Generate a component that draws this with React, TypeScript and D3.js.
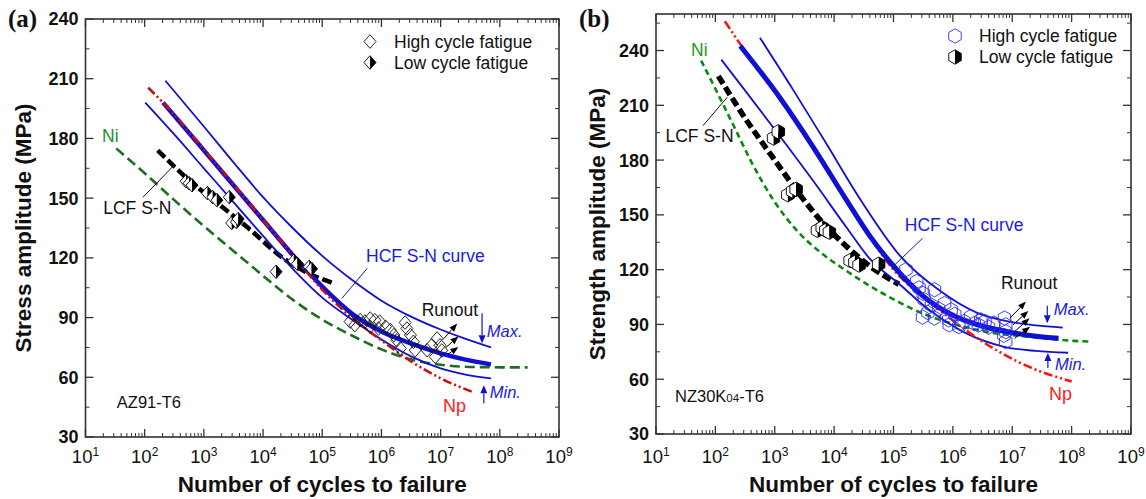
import React from "react";
import * as d3 from "d3";

type Pt = [number, number];
type Arr4 = [number, number, number, number];

const FONT = "'Liberation Sans', Arial, Helvetica, sans-serif";

// ---------- shared axis values ----------
const xExponents = [1, 2, 3, 4, 5, 6, 7, 8, 9];
const yTickValuesA = [30, 60, 90, 120, 150, 180, 210, 240];
const yTickValuesB = [30, 60, 90, 120, 150, 180, 210, 240];

// ---------- panel (a) AZ91-T6 : points are [log10(cycles), MPa] ----------
const aMaxCurve: Pt[] = [[2.35, 209], [3.0, 186], [3.5, 168], [4.0, 150.5], [4.5, 135], [5.0, 121], [5.5, 109], [6.0, 98.5], [6.5, 90.5], [7.0, 84], [7.4, 79.5], [7.85, 75]];
const aMeanCurve: Pt[] = [[2.31, 198], [2.7, 184.5], [3.0, 174], [3.5, 156.5], [4.0, 139], [4.5, 121.5], [5.0, 105.5], [5.5, 92], [6.0, 83], [6.5, 77], [7.0, 72], [7.4, 69], [7.85, 66.5]];
const aMinCurve: Pt[] = [[2.01, 198], [2.5, 182], [3.0, 165], [3.5, 148], [4.0, 131], [4.55, 113], [5.0, 100], [5.5, 89], [6.0, 79], [6.5, 70.5], [7.0, 64.5], [7.4, 61.5], [7.85, 59.5]];
const aNpCurve: Pt[] = [[2.06, 205.5], [2.5, 192], [3.0, 174.5], [3.5, 157], [4.0, 139], [4.5, 121.5], [5.0, 104], [5.5, 90], [6.0, 78.5], [6.5, 68], [7.0, 59.5], [7.55, 52.5]];
const aNiCurve: Pt[] = [[1.52, 175], [2.0, 162.5], [2.5, 149], [3.0, 136], [3.5, 123.5], [4.0, 111], [4.5, 99], [5.0, 89], [5.5, 81], [6.0, 74], [6.5, 69], [7.0, 66.3], [7.5, 65.2], [8.0, 65], [8.47, 65]];
const aLcfCurve: Pt[] = [[2.22, 174], [2.75, 159], [3.25, 147], [3.75, 135], [4.29, 121], [4.75, 112.5], [5.22, 107]];
const aHcfPoints: Pt[] = [[5.47, 88], [5.55, 86.2], [5.64, 88.7], [5.72, 88], [5.81, 89.5], [5.89, 88.7], [5.97, 88], [5.81, 85.4], [5.95, 84.5], [6.07, 85.4], [6.15, 83.7], [6.21, 81.2], [6.26, 78.6], [6.32, 74.5], [6.4, 87.5], [6.43, 84.5], [6.49, 81.2], [6.54, 77.8], [6.57, 73.6], [6.77, 73.6], [6.85, 76.1], [6.94, 79.5], [6.99, 76.1], [6.91, 70.3], [7.02, 73.5]];
const aLcfPoints: Pt[] = [[2.7, 158.5], [2.75, 157.5], [2.8, 156.5], [3.06, 152.5], [3.15, 150.5], [3.22, 149], [3.43, 150.5], [3.47, 137.5], [3.55, 138], [3.58, 139.5], [4.22, 113], [4.52, 118.5], [4.58, 117], [4.78, 115.5], [4.82, 114.5]];
const aRunouts: Arr4[] = [[7.04, 79, 7.28, 87], [7.09, 75, 7.3, 80.5], [7.12, 71.5, 7.3, 75.2]];

// ---------- panel (b) NZ30K04-T6 ----------
const bMaxCurve: Pt[] = [[2.75, 247], [3.3, 219], [3.85, 190], [4.45, 158], [5.1, 128], [5.8, 108], [6.4, 96.5], [6.95, 91.5], [7.4, 89.5], [7.85, 88.3]];
const bMeanCurve: Pt[] = [[2.42, 242.5], [3.09, 214], [3.65, 187], [4.2, 158.5], [4.6, 138.5], [5.0, 122], [5.5, 105.5], [6.0, 95], [6.5, 89], [7.0, 85.5], [7.4, 83.5], [7.78, 82.4]];
const bMinCurve: Pt[] = [[2.1, 235], [2.55, 216], [3.1, 192.5], [3.65, 168.5], [4.2, 143.5], [4.6, 126], [5.1, 112], [5.6, 98], [6.2, 85.5], [6.9, 77.5], [7.4, 75.5], [7.94, 74.5]];
const bNpCurve: Pt[] = [[2.16, 256], [2.42, 243.5], [3.09, 214.5], [3.65, 187.5], [4.2, 158.5], [4.6, 138], [5.0, 120], [5.38, 108], [5.77, 98], [6.21, 87], [6.77, 75.2], [7.33, 66.1], [8.0, 58.8]];
const bNiCurve: Pt[] = [[1.76, 234.5], [2.07, 214.5], [2.32, 198], [2.59, 180], [2.98, 158], [3.37, 141.5], [3.75, 130], [4.2, 119.5], [4.53, 112.5], [4.93, 105], [5.49, 96], [6.04, 90], [6.7, 85.2], [7.31, 83.2], [8.03, 81], [8.33, 80.6]];
const bLcfCurve: Pt[] = [[2.05, 226], [2.5, 203], [3.0, 180], [3.4, 162], [3.8, 146], [4.2, 133], [4.6, 122], [5.09, 112]];
const bHcfPoints: Pt[] = [[5.21, 120], [5.39, 113.5], [5.43, 110], [5.5, 107], [5.52, 103.5], [5.58, 96.5], [5.64, 100.5], [5.69, 109], [5.69, 93.5], [5.76, 98.5], [5.86, 101.5], [5.93, 92.5], [5.97, 98], [6.03, 95.5], [6.1, 88.8], [6.19, 91.6], [6.3, 94.3], [6.36, 90.5], [6.43, 89.7], [6.47, 92.5], [6.54, 91.6], [6.6, 88.5], [6.69, 90.7], [6.87, 93.5], [6.89, 89.8], [6.89, 86], [6.89, 80.6], [6.86, 84], [5.49, 94], [5.94, 89.8]];
const bLcfPoints: Pt[] = [[2.98, 192], [3.06, 195.5], [3.22, 161], [3.3, 163], [3.36, 164], [3.72, 141.5], [3.8, 143], [3.86, 141.5], [3.92, 140.5], [4.27, 125], [4.35, 124], [4.42, 122.5], [4.75, 123]];
const bRunouts: Arr4[] = [[6.96, 93.4, 7.23, 102.5], [7.01, 89.7, 7.27, 97.4], [7.04, 86.1, 7.29, 93.4], [7.04, 82.4, 7.3, 88.8]];

interface Spec {
  key: string;
  x0: number; x1: number; yTop: number; yBot: number; yMax: number;
  yTicks: number[];
  yTitle: string; yTitleX: number; panelLabel: string; panelLabelX: number;
  max: Pt[]; mean: Pt[]; min: Pt[]; np: Pt[]; ni: Pt[]; lcf: Pt[];
  hcfPts: Pt[]; lcfPts: Pt[]; runouts: Arr4[];
  marker: "diamond" | "hex";
  npColor: string; niColor: string; niTextColor: string; npOnTop: boolean;
  niDash: string; lcfDash: string; lcfWidth: number; meanWidth: number;
  ann: any;
}

function Arrow({ x1, y1, x2, y2, color, hl = 7, hw = 3, sw = 1 }: any) {
  const a = Math.atan2(y2 - y1, x2 - x1);
  const bx = x2 - hl * Math.cos(a), by = y2 - hl * Math.sin(a);
  const px = -Math.sin(a) * hw, py = Math.cos(a) * hw;
  return (
    <g>
      <line x1={x1} y1={y1} x2={bx} y2={by} stroke={color} strokeWidth={sw} />
      <polygon points={`${x2},${y2} ${bx + px},${by + py} ${bx - px},${by - py}`} fill={color} />
    </g>
  );
}

function diamondPath(w: number, h: number) {
  return `M0,${-h}L${w},0L0,${h}L${-w},0Z`;
}
function hexPts(r: number) {
  const p: [number, number][] = [];
  for (let i = 0; i < 6; i++) {
    const ang = (-90 + 60 * i) * Math.PI / 180;
    p.push([r * Math.cos(ang), r * Math.sin(ang)]);
  }
  return p;
}

const HEX_R = 7.2;

function HcfMarker({ x, y, kind }: any) {
  if (kind === "diamond") {
    return <path transform={`translate(${x},${y})`} d={diamondPath(6, 6.8)} fill="none" stroke="#111" strokeWidth={0.9} />;
  }
  const p = hexPts(HEX_R);
  return <polygon transform={`translate(${x},${y})`} points={p.map(q => q.join(",")).join(" ")} fill="none" stroke="#2a2aff" strokeWidth={0.9} />;
}

function LcfMarker({ x, y, kind }: any) {
  if (kind === "diamond") {
    const w = 6, h = 6.8;
    return (
      <g transform={`translate(${x},${y})`}>
        <path d={`M0,${-h}L${-w},0L0,${h}Z`} fill="#fff" />
        <path d={`M0,${-h}L${w},0L0,${h}Z`} fill="#000" />
        <path d={diamondPath(w, h)} fill="none" stroke="#000" strokeWidth={0.9} />
      </g>
    );
  }
  const r = HEX_R;
  const p = hexPts(r);
  const w = r * Math.cos(Math.PI / 6);
  return (
    <g transform={`translate(${x},${y})`}>
      <path d={`M0,${-r}L${-w},${-r / 2}L${-w},${r / 2}L0,${r}Z`} fill="#fff" />
      <path d={`M0,${-r}L${w},${-r / 2}L${w},${r / 2}L0,${r}Z`} fill="#000" />
      <polygon points={p.map(q => q.join(",")).join(" ")} fill="none" stroke="#000" strokeWidth={0.9} />
    </g>
  );
}

const BLUE = "#1010d4";
const BLUE_TXT = "#1a1ae8";

function Panel({ s }: { s: Spec }) {
  const x = d3.scaleLog().domain([1e1, 1e9]).range([s.x0, s.x1]);
  const y = d3.scaleLinear().domain([30, s.yMax]).range([s.yBot, s.yTop]);
  const X = (e: number) => x(Math.pow(10, e));
  const line = d3.line<Pt>().x(d => X(d[0])).y(d => y(d[1])).curve(d3.curveMonotoneX);

  const minorX: number[] = [];
  for (let n = 1; n < 9; n++) for (let k = 2; k <= 9; k++) minorX.push(k * Math.pow(10, n));
  const minorY: number[] = [];
  for (let v = 45; v < s.yMax; v += 30) minorY.push(v);

  const a = s.ann;
  const cx = (s.x0 + s.x1) / 2;
  const yc = (s.yTop + s.yBot) / 2;

  const npPath = <path d={line(s.np) || ""} fill="none" stroke={s.npColor} strokeWidth={2.6} strokeDasharray="9,3,2,3,2,3" />;

  return (
    <g>
      {/* frame */}
      <rect x={s.x0} y={s.yTop} width={s.x1 - s.x0} height={s.yBot - s.yTop} fill="none" stroke="#333" strokeWidth={1.6} />
      {/* x ticks */}
      {xExponents.map(e => (
        <g key={"xt" + e}>
          <line x1={X(e)} x2={X(e)} y1={s.yBot} y2={s.yBot - 8} stroke="#333" strokeWidth={1.3} />
          <line x1={X(e)} x2={X(e)} y1={s.yTop} y2={s.yTop + 8} stroke="#333" strokeWidth={1.3} />
          <text x={X(e)} y={463} textAnchor="middle" fontFamily={FONT} fontSize={18.5} fill="#111">10<tspan dy={-7.5} fontSize={12}>{e}</tspan></text>
        </g>
      ))}
      {minorX.map((v, i) => (
        <g key={"xm" + i}>
          <line x1={x(v)} x2={x(v)} y1={s.yBot} y2={s.yBot - 4} stroke="#333" strokeWidth={1} />
          <line x1={x(v)} x2={x(v)} y1={s.yTop} y2={s.yTop + 4} stroke="#333" strokeWidth={1} />
        </g>
      ))}
      {/* y ticks */}
      {s.yTicks.map(v => (
        <g key={"yt" + v}>
          <line x1={s.x0} x2={s.x0 + 8} y1={y(v)} y2={y(v)} stroke="#333" strokeWidth={1.3} />
          <line x1={s.x1} x2={s.x1 - 8} y1={y(v)} y2={y(v)} stroke="#333" strokeWidth={1.3} />
          <text x={s.x0 - 7} y={y(v)} dy="0.36em" textAnchor="end" fontFamily={FONT} fontWeight="bold" fontSize={18} fill="#111">{v}</text>
        </g>
      ))}
      {minorY.map(v => (
        <g key={"ym" + v}>
          <line x1={s.x0} x2={s.x0 + 4} y1={y(v)} y2={y(v)} stroke="#333" strokeWidth={1} />
          <line x1={s.x1} x2={s.x1 - 4} y1={y(v)} y2={y(v)} stroke="#333" strokeWidth={1} />
        </g>
      ))}
      {/* titles */}
      <text x={cx} y={492} textAnchor="middle" fontFamily={FONT} fontWeight="bold" fontSize={22.5} fill="#111">Number of cycles to failure</text>
      <text transform={`translate(${s.yTitleX},${yc}) rotate(-90)`} textAnchor="middle" fontFamily={FONT} fontWeight="bold" fontSize={22.5} fill="#111">{s.yTitle}</text>
      <text x={s.panelLabelX} y={27} fontFamily="'Liberation Serif', 'Times New Roman', serif" fontWeight="bold" fontSize={25} fill="#111">{s.panelLabel}</text>

      {/* curves */}
      <path d={line(s.ni) || ""} fill="none" stroke={s.niColor} strokeWidth={2.6} strokeDasharray={s.niDash} />
      <path d={line(s.lcf) || ""} fill="none" stroke="#000" strokeWidth={s.lcfWidth} strokeDasharray={s.lcfDash} />
      <path d={line(s.max) || ""} fill="none" stroke={BLUE} strokeWidth={1.8} />
      <path d={line(s.min) || ""} fill="none" stroke={BLUE} strokeWidth={1.8} />
      {!s.npOnTop && npPath}
      <path d={line(s.mean) || ""} fill="none" stroke={BLUE} strokeWidth={s.meanWidth} />
      {s.npOnTop && npPath}

      {/* markers */}
      {s.lcfPts.map((p, i) => <LcfMarker key={"l" + i} x={X(p[0])} y={y(p[1])} kind={s.marker} />)}
      {s.hcfPts.map((p, i) => <HcfMarker key={"h" + i} x={X(p[0])} y={y(p[1])} kind={s.marker} />)}
      {s.runouts.map((r, i) => <Arrow key={"r" + i} x1={X(r[0])} y1={y(r[1])} x2={X(r[2])} y2={y(r[3])} color="#000" hl={8} hw={3.2} sw={1} />)}

      {/* annotations */}
      <text x={X(a.ni[0])} y={y(a.ni[1])} fontFamily={FONT} fontSize={17.5} fill={s.niTextColor}>Ni</text>
      <text x={X(a.lcf[0])} y={y(a.lcf[1])} fontFamily={FONT} fontSize={17.5} fill="#111">LCF S-N</text>
      <line x1={X(a.lcfLead[0])} y1={y(a.lcfLead[1])} x2={X(a.lcfLead[2])} y2={y(a.lcfLead[3])} stroke="#111" strokeWidth={1} />
      <text x={X(a.hcf[0])} y={y(a.hcf[1])} fontFamily={FONT} fontSize={17.5} fill={BLUE_TXT}>HCF S-N curve</text>
      <line x1={X(a.hcfLead[0])} y1={y(a.hcfLead[1])} x2={X(a.hcfLead[2])} y2={y(a.hcfLead[3])} stroke={BLUE} strokeWidth={1} />
      <text x={X(a.runout[0])} y={y(a.runout[1])} fontFamily={FONT} fontSize={17.5} fill="#111">Runout</text>
      <text x={X(a.maxT[0])} y={y(a.maxT[1])} fontFamily={FONT} fontStyle="italic" fontSize={16.5} fill={BLUE_TXT}>Max.</text>
      <Arrow x1={X(a.maxA[0])} y1={y(a.maxA[1])} x2={X(a.maxA[0])} y2={y(a.maxA[2])} color={BLUE} hl={8} hw={3.5} sw={1.2} />
      <text x={X(a.minT[0])} y={y(a.minT[1])} fontFamily={FONT} fontStyle="italic" fontSize={16.5} fill={BLUE_TXT}>Min.</text>
      <Arrow x1={X(a.minA[0])} y1={y(a.minA[1])} x2={X(a.minA[0])} y2={y(a.minA[2])} color={BLUE} hl={8} hw={3.5} sw={1.2} />
      <text x={X(a.np[0])} y={y(a.np[1])} fontFamily={FONT} fontSize={18} fill="#ff1a1a">Np</text>
      <text x={X(a.mat[0])} y={y(a.mat[1])} fontFamily={FONT} fontSize={16.5} fill="#111">
        {s.key === "a" ? "AZ91-T6" : <>NZ30K<tspan fontSize={11.5}>04</tspan>-T6</>}
      </text>

      {/* legend */}
      <g transform={`translate(${a.legX},${a.legY})`}>
        <HcfMarker x={0} y={0} kind={s.marker} />
        <text x={24} y={6} fontFamily={FONT} fontSize={17.5} fill="#111">High cycle fatigue</text>
        <LcfMarker x={0} y={21} kind={s.marker} />
        <text x={24} y={27} fontFamily={FONT} fontSize={17.5} fill="#111">Low cycle fatigue</text>
      </g>
    </g>
  );
}

const specA: Spec = {
  key: "a", x0: 85.5, x1: 559, yTop: 19, yBot: 437, yMax: 240, yTicks: yTickValuesA,
  yTitle: "Stress amplitude (MPa)", yTitleX: 31, panelLabel: "(a)", panelLabelX: 8,
  max: aMaxCurve, mean: aMeanCurve, min: aMinCurve, np: aNpCurve, ni: aNiCurve, lcf: aLcfCurve,
  hcfPts: aHcfPoints, lcfPts: aLcfPoints, runouts: aRunouts, marker: "diamond",
  npColor: "#c81010", niColor: "#1e6e1e", niTextColor: "#2a8f2a", npOnTop: true,
  niDash: "10,5", lcfDash: "10,4", lcfWidth: 4.5, meanWidth: 4.5,
  ann: {
    ni: [1.28, 178.3], lcf: [1.3, 142], lcfLead: [1.97, 150.4, 2.47, 165.7],
    hcf: [5.74, 118], hcfLead: [5.76, 114.7, 5.33, 99.6], runout: [6.68, 90.7],
    maxT: [7.78, 80.1], maxA: [7.7, 92.2, 77.1], minT: [7.83, 49.5], minA: [7.73, 47, 56],
    np: [7.04, 42.4], mat: [1.53, 44.4], legX: 370, legY: 41.5,
  },
};

const specB: Spec = {
  key: "b", x0: 656, x1: 1131, yTop: 14, yBot: 434, yMax: 260, yTicks: yTickValuesB,
  yTitle: "Strength amplitude (MPa)", yTitleX: 605, panelLabel: "(b)", panelLabelX: 579,
  max: bMaxCurve, mean: bMeanCurve, min: bMinCurve, np: bNpCurve, ni: bNiCurve, lcf: bLcfCurve,
  hcfPts: bHcfPoints, lcfPts: bLcfPoints, runouts: bRunouts, marker: "hex",
  npColor: "#ff1010", niColor: "#0a8a0a", niTextColor: "#1a9a1a", npOnTop: false,
  niDash: "6,4", lcfDash: "9,4", lcfWidth: 5.5, meanWidth: 5,
  ann: {
    ni: [1.59, 237.2], lcf: [1.16, 189.9], lcfLead: [1.79, 198.8, 2.2, 214.4],
    hcf: [5.19, 141.2], hcfLead: [5.49, 137.2, 5.02, 122.6], runout: [6.81, 109.5],
    maxT: [7.7, 95.2], maxA: [7.59, 100.2, 90.7], minT: [7.72, 65.1], minA: [7.6, 66.1, 74.3],
    np: [7.62, 48.7], mat: [1.32, 47.6], legX: 955, legY: 36,
  },
};

export default function App() {
  return (
    <svg width={1146} height={499} viewBox="0 0 1146 499" style={{ display: "block", position: "absolute", left: 0, top: 0, background: "#fff" }}>
      <rect width={1146} height={499} fill="#fff" />
      <Panel s={specA} />
      <Panel s={specB} />
    </svg>
  );
}
